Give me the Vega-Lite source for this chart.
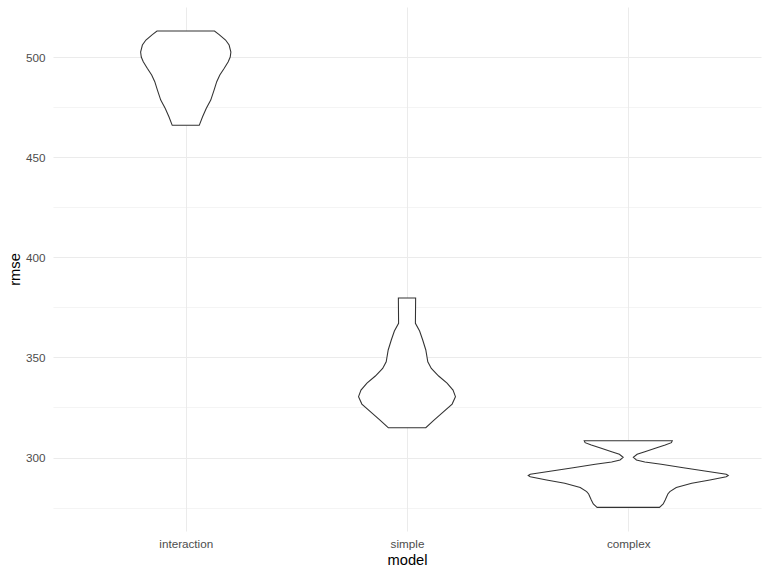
{
  "$schema": "https://vega.github.io/schema/vega-lite/v6.json",
  "width": 708,
  "height": 524,
  "autosize": {"type": "none"},
  "padding": {"left": 53, "top": 7, "right": 7, "bottom": 45},
  "background": "white",
  "data": {
    "values": [
      {"model": "interaction", "rmse": 513.0, "w": 0.130},
      {"model": "interaction", "rmse": 511.2, "w": 0.151},
      {"model": "interaction", "rmse": 508.5, "w": 0.180},
      {"model": "interaction", "rmse": 506.0, "w": 0.196},
      {"model": "interaction", "rmse": 502.5, "w": 0.204},
      {"model": "interaction", "rmse": 500.0, "w": 0.201},
      {"model": "interaction", "rmse": 497.7, "w": 0.192},
      {"model": "interaction", "rmse": 494.4, "w": 0.174},
      {"model": "interaction", "rmse": 491.0, "w": 0.154},
      {"model": "interaction", "rmse": 487.7, "w": 0.140},
      {"model": "interaction", "rmse": 483.5, "w": 0.128},
      {"model": "interaction", "rmse": 478.5, "w": 0.113},
      {"model": "interaction", "rmse": 474.4, "w": 0.093},
      {"model": "interaction", "rmse": 470.2, "w": 0.076},
      {"model": "interaction", "rmse": 465.9, "w": 0.061},
      {"model": "simple", "rmse": 379.7, "w": 0.039},
      {"model": "simple", "rmse": 367.0, "w": 0.038},
      {"model": "simple", "rmse": 363.2, "w": 0.057},
      {"model": "simple", "rmse": 358.7, "w": 0.071},
      {"model": "simple", "rmse": 353.7, "w": 0.085},
      {"model": "simple", "rmse": 347.8, "w": 0.094},
      {"model": "simple", "rmse": 344.5, "w": 0.110},
      {"model": "simple", "rmse": 340.7, "w": 0.143},
      {"model": "simple", "rmse": 337.2, "w": 0.181},
      {"model": "simple", "rmse": 333.7, "w": 0.208},
      {"model": "simple", "rmse": 330.4, "w": 0.219},
      {"model": "simple", "rmse": 326.7, "w": 0.204},
      {"model": "simple", "rmse": 322.2, "w": 0.158},
      {"model": "simple", "rmse": 318.7, "w": 0.122},
      {"model": "simple", "rmse": 314.9, "w": 0.085},
      {"model": "complex", "rmse": 308.4, "w": 0.199},
      {"model": "complex", "rmse": 307.4, "w": 0.195},
      {"model": "complex", "rmse": 306.2, "w": 0.167},
      {"model": "complex", "rmse": 304.6, "w": 0.122},
      {"model": "complex", "rmse": 302.9, "w": 0.075},
      {"model": "complex", "rmse": 301.6, "w": 0.040},
      {"model": "complex", "rmse": 300.1, "w": 0.023},
      {"model": "complex", "rmse": 298.8, "w": 0.037},
      {"model": "complex", "rmse": 297.8, "w": 0.075},
      {"model": "complex", "rmse": 296.6, "w": 0.149},
      {"model": "complex", "rmse": 294.9, "w": 0.249},
      {"model": "complex", "rmse": 293.3, "w": 0.346},
      {"model": "complex", "rmse": 291.6, "w": 0.443},
      {"model": "complex", "rmse": 291.0, "w": 0.452},
      {"model": "complex", "rmse": 290.4, "w": 0.443},
      {"model": "complex", "rmse": 288.8, "w": 0.369},
      {"model": "complex", "rmse": 287.1, "w": 0.287},
      {"model": "complex", "rmse": 285.0, "w": 0.217},
      {"model": "complex", "rmse": 283.0, "w": 0.188},
      {"model": "complex", "rmse": 281.8, "w": 0.179},
      {"model": "complex", "rmse": 278.8, "w": 0.167},
      {"model": "complex", "rmse": 276.8, "w": 0.158},
      {"model": "complex", "rmse": 275.1, "w": 0.141}
    ]
  },
  "transform": [
    {"calculate": "indexof(['interaction','simple','complex'], datum.model) + 1", "as": "pos"},
    {"calculate": "datum.pos - datum.w", "as": "lo"},
    {"calculate": "datum.pos + datum.w", "as": "hi"}
  ],
  "encoding": {
    "y": {
      "field": "rmse",
      "type": "quantitative",
      "scale": {"domain": [263.3, 525.0], "nice": false, "zero": false},
      "axis": {
        "title": "rmse",
        "values": [275, 300, 325, 350, 375, 400, 425, 450, 475, 500],
        "labelExpr": "datum.value % 50 === 0 ? datum.label : ''",
        "gridWidth": {"condition": {"test": "datum.value % 50 === 0", "value": 1.07}, "value": 0.53},
        "labelPadding": 8,
        "titlePadding": 3
      }
    }
  },
  "layer": [
    {
      "mark": {
        "type": "area",
        "orient": "horizontal",
        "fill": "white",
        "stroke": null,
        "interpolate": "linear"
      },
      "encoding": {
        "x": {
          "field": "lo",
          "type": "quantitative",
          "scale": {"domain": [0.4, 3.6], "nice": false, "zero": false},
          "axis": {
            "title": "model",
            "values": [1, 2, 3],
            "labelExpr": "datum.value === 1 ? 'interaction' : datum.value === 2 ? 'simple' : 'complex'",
            "gridWidth": 1.07,
            "labelPadding": 7,
            "titlePadding": 3
          }
        },
        "x2": {"field": "hi"},
        "detail": {"field": "model"}
      }
    },
    {
      "transform": [
        {"fold": ["lo", "hi"], "as": ["side", "xv"]},
        {"calculate": "datum.side === 'lo' ? datum.rmse : 10000 - datum.rmse", "as": "ord"}
      ],
      "mark": {
        "type": "line",
        "stroke": "#333333",
        "strokeWidth": 1.07,
        "interpolate": "linear-closed"
      },
      "encoding": {
        "x": {"field": "xv", "type": "quantitative"},
        "detail": {"field": "model"},
        "order": {"field": "ord", "type": "quantitative"}
      }
    }
  ],
  "config": {
    "view": {"stroke": null},
    "axis": {
      "domain": false,
      "ticks": false,
      "tickSize": 0,
      "gridColor": "#EBEBEB",
      "labelFont": "Liberation Sans",
      "labelFontSize": 11.7,
      "labelColor": "#4D4D4D",
      "titleFont": "Liberation Sans",
      "titleFontSize": 14.7,
      "titleFontWeight": "normal",
      "titleColor": "#000000",
      "labelOverlap": false
    }
  }
}
